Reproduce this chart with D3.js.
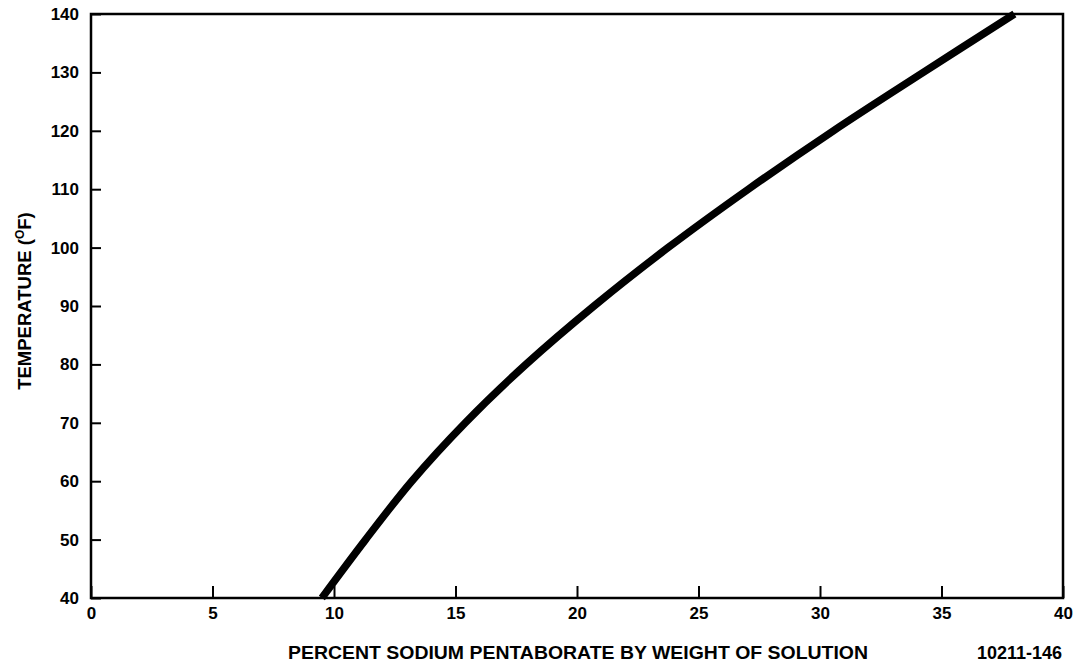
<!DOCTYPE html>
<html>
<head>
<meta charset="utf-8">
<script src="https://cdn.jsdelivr.net/npm/d3@7"></script>
<style>
  html, body { margin: 0; padding: 0; background: #fff; }
  svg { display: block; }
  text { font-family: "Liberation Sans", Arial, Helvetica, sans-serif; font-weight: bold; fill: #000; }
</style>
</head>
<body>
<svg id="chart" width="1078" height="666"></svg>
<script>
// Solubility curve of sodium pentaborate: weight percent vs. temperature
const temperatureF  = [40, 50, 60, 70, 80, 90, 100, 110, 120, 130, 140];
const percentBorate = [9.5, 11.3, 13.2, 15.4, 17.9, 20.7, 23.75, 27.05, 30.55, 34.25, 38.0];

const xTicks = [0, 5, 10, 15, 20, 25, 30, 35, 40];
const yTicks = [40, 50, 60, 70, 80, 90, 100, 110, 120, 130, 140];

const xTitle = "PERCENT SODIUM PENTABORATE BY WEIGHT OF SOLUTION";
const yTitle = "TEMPERATURE (";
const figureId = "10211-146";

const svg = d3.select("#chart");

const x = d3.scaleLinear().domain([0, 40]).range([91, 1063]);
const y = d3.scaleLinear().domain([40, 140]).range([598, 14]);

const tickFont = sel => sel
  .attr("font-size", 17)
  .style("font-family", "'Liberation Sans', Arial, sans-serif")
  .style("font-weight", "bold");

// Bottom axis: inward ticks, labels below
const xAxis = svg.append("g")
  .attr("transform", `translate(0,${y(40)})`)
  .call(d3.axisBottom(x).tickValues(xTicks).tickSize(-12).tickPadding(9).tickFormat(d3.format("d")));
xAxis.select(".domain").remove();
xAxis.selectAll(".tick line").attr("stroke", "#000").attr("stroke-width", 2);
xAxis.selectAll(".tick text").call(tickFont);

// Left axis: inward ticks, labels left
const yAxis = svg.append("g")
  .attr("transform", `translate(${x(0)},0)`)
  .call(d3.axisLeft(y).tickValues(yTicks).tickSize(-10).tickPadding(12).tickFormat(d3.format("d")));
yAxis.select(".domain").remove();
yAxis.selectAll(".tick line").attr("stroke", "#000").attr("stroke-width", 2);
yAxis.selectAll(".tick text").call(tickFont);

// Plot frame
svg.append("rect")
  .attr("x", x(0)).attr("y", y(140))
  .attr("width", x(40) - x(0)).attr("height", y(40) - y(140))
  .attr("fill", "none").attr("stroke", "#000").attr("stroke-width", 2.5);

// Solubility curve
const pts = percentBorate.map((p, i) => [p, temperatureF[i]]);
const line = d3.line().x(d => x(d[0])).y(d => y(d[1])).curve(d3.curveCatmullRom.alpha(0.5));
svg.append("path")
  .datum(pts)
  .attr("d", line)
  .attr("fill", "none")
  .attr("stroke", "#000")
  .attr("stroke-width", 7.5)
  .attr("stroke-linecap", "butt");

// Axis titles
svg.append("text")
  .attr("x", 288).attr("y", 659)
  .attr("font-size", 18)
  .attr("textLength", 580).attr("lengthAdjust", "spacingAndGlyphs")
  .text(xTitle);

svg.append("text")
  .attr("x", 1062).attr("y", 659)
  .attr("text-anchor", "end")
  .attr("font-size", 18)
  .text(figureId);

const yt = svg.append("text")
  .attr("transform", "translate(31,301) rotate(-90)")
  .attr("text-anchor", "middle")
  .attr("font-size", 18.5);
yt.append("tspan").text(yTitle);
yt.append("tspan").attr("font-size", 12).attr("dy", -7).text("O");
yt.append("tspan").attr("dy", 7).text("F)");
</script>
</body>
</html>
